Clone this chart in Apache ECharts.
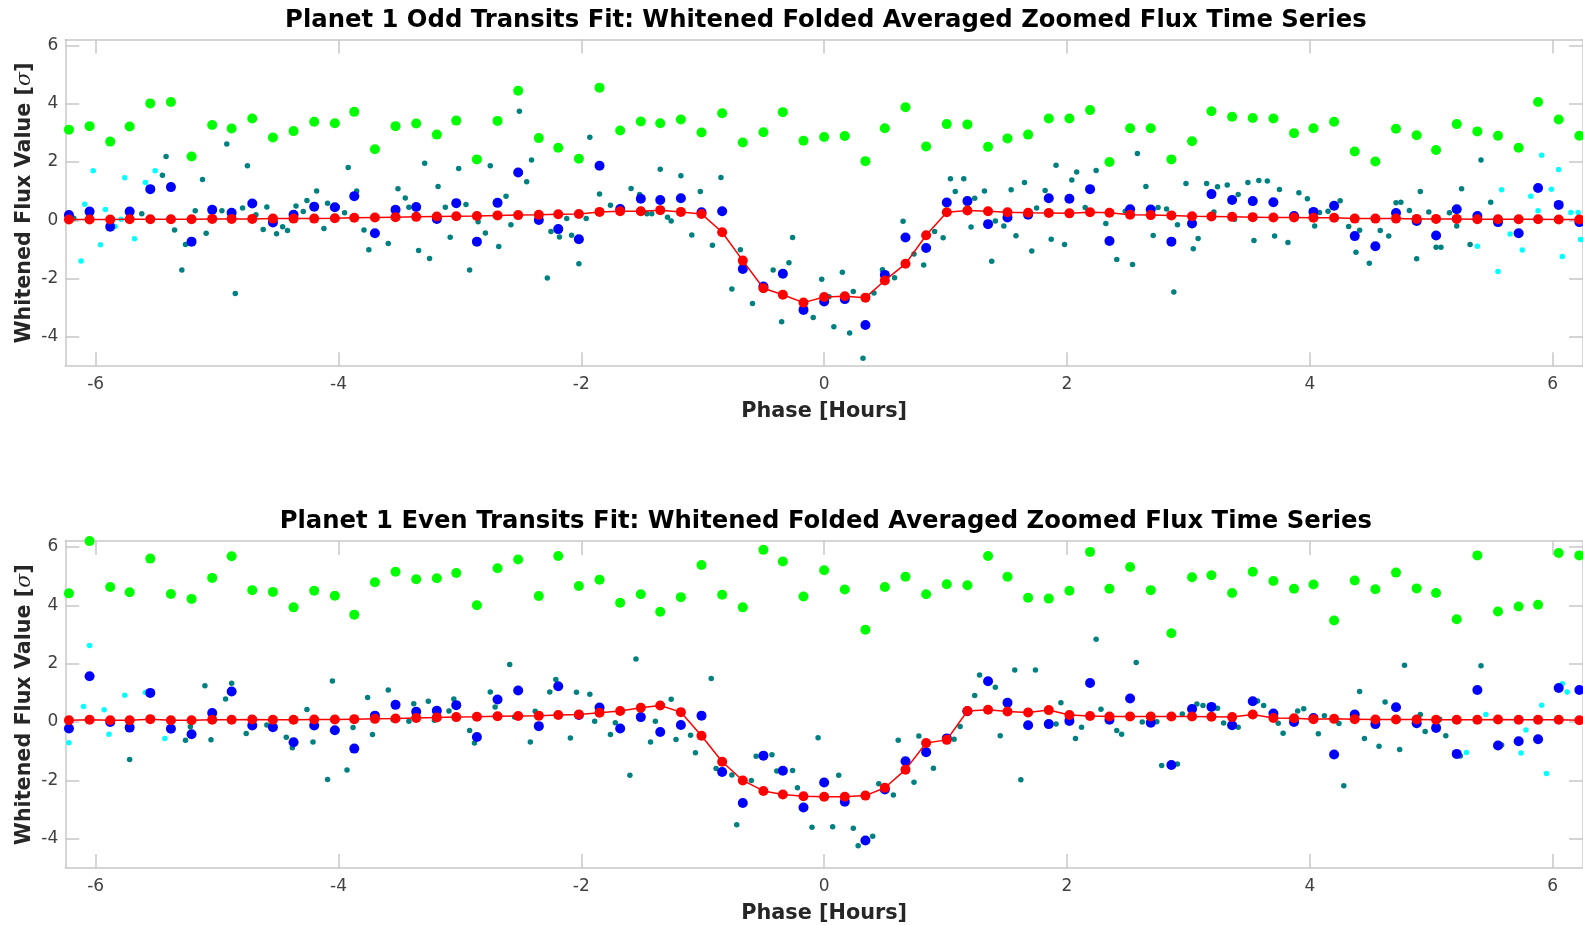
<!DOCTYPE html>
<html><head><meta charset="utf-8">
<script src="https://cdn.jsdelivr.net/npm/echarts/dist/echarts.min.js"></script>
<style>html,body{margin:0;padding:0;background:#fff}#c{width:1583px;height:925px}</style>
</head><body><div id="c"></div>
<script>
// ---------- DATA ----------
const titles = [
  'Planet 1 Odd Transits Fit: Whitened Folded Averaged Zoomed Flux Time Series',
  'Planet 1 Even Transits Fit: Whitened Folded Averaged Zoomed Flux Time Series'
];
const xTicks = [-6, -4, -2, 0, 2, 4, 6];
const yTicks = [-4, -2, 0, 2, 4, 6];

const binPhase = [-6.22,-6.05,-5.88,-5.72,-5.55,-5.38,-5.21,-5.04,-4.88,-4.71,-4.54,-4.37,-4.20,-4.03,-3.87,-3.70,-3.53,-3.36,-3.19,-3.03,-2.86,-2.69,-2.52,-2.35,-2.19,-2.02,-1.85,-1.68,-1.51,-1.35,-1.18,-1.01,-0.84,-0.67,-0.50,-0.34,-0.17,0,0.17,0.34,0.50,0.67,0.84,1.01,1.18,1.35,1.51,1.68,1.85,2.02,2.19,2.35,2.52,2.69,2.86,3.03,3.19,3.36,3.53,3.70,3.87,4.03,4.20,4.37,4.54,4.71,4.88,5.04,5.21,5.38,5.55,5.72,5.88,6.05,6.22];

// Odd transits
const oddModel = [0.03,0.03,0.03,0.04,0.04,0.04,0.04,0.05,0.05,0.05,0.06,0.06,0.06,0.07,0.09,0.10,0.11,0.12,0.13,0.14,0.15,0.17,0.18,0.19,0.21,0.22,0.29,0.31,0.31,0.35,0.29,0.22,-0.41,-1.38,-2.33,-2.55,-2.82,-2.63,-2.60,-2.65,-2.06,-1.49,-0.51,0.28,0.34,0.31,0.28,0.26,0.25,0.24,0.28,0.26,0.19,0.18,0.17,0.14,0.13,0.12,0.11,0.10,0.10,0.09,0.09,0.06,0.06,0.06,0.05,0.05,0.05,0.04,0.04,0.04,0.04,0.03,0.03];
const oddBinned = [0.18,0.30,-0.22,0.30,1.07,1.14,-0.73,0.36,0.26,0.58,-0.07,0.19,0.47,0.45,0.83,-0.44,0.36,0.46,0.05,0.59,-0.73,0.60,1.64,0.01,-0.30,-0.65,1.87,0.39,0.74,0.70,0.76,0.28,0.31,-1.67,-2.27,-1.83,-3.07,-2.78,-2.70,-3.59,-1.87,-0.59,-0.95,0.61,0.66,-0.13,0.10,0.19,0.76,0.74,1.07,-0.71,0.38,0.37,-0.73,-0.11,0.90,0.70,0.66,0.62,0.15,0.29,0.50,-0.54,-0.89,0.25,-0.02,-0.52,0.38,0.15,-0.06,-0.44,1.11,0.53,-0.06];
const oddResidual = [3.11,3.23,2.70,3.22,4.01,4.06,2.19,3.27,3.15,3.49,2.84,3.06,3.38,3.33,3.72,2.44,3.23,3.32,2.94,3.42,2.09,3.41,4.44,2.82,2.49,2.11,4.55,3.08,3.39,3.33,3.46,3.01,3.67,2.67,3.02,3.71,2.73,2.86,2.89,2.03,3.16,3.88,2.53,3.30,3.29,2.52,2.81,2.94,3.49,3.49,3.78,2.00,3.16,3.16,2.09,2.71,3.74,3.55,3.51,3.49,2.99,3.16,3.38,2.36,2.02,3.14,2.92,2.41,3.30,3.05,2.90,2.49,4.06,3.46,2.90];
const oddData = [[-6.18,0.07],[-5.62,0.23],[-5.42,2.19],[-5.45,1.55],[-5.35,-0.33],[-5.29,-1.70],[-5.26,-0.83],[-5.18,0.33],[-5.12,1.40],[-5.09,-0.44],[-4.96,0.33],[-4.92,2.62],[-4.85,-2.51],[-4.79,0.42],[-4.75,1.87],[-4.68,0.19],[-4.62,-0.31],[-4.59,0.46],[-4.51,-0.46],[-4.46,-0.22],[-4.42,-0.35],[-4.35,0.49],[-4.29,0.30],[-4.26,0.68],[-4.18,1.01],[-4.12,-0.28],[-4.09,0.59],[-4.01,0.46],[-3.95,0.26],[-3.92,1.81],[-3.85,1.01],[-3.79,-0.33],[-3.75,-1.01],[-3.59,-0.79],[-3.51,1.08],[-3.45,0.77],[-3.42,0.45],[-3.34,-1.03],[-3.29,1.96],[-3.25,-1.31],[-3.18,1.16],[-3.12,0.45],[-3.08,-0.58],[-3.01,1.78],[-2.95,0.54],[-2.92,-1.70],[-2.85,-0.05],[-2.79,-0.43],[-2.75,1.87],[-2.68,-0.90],[-2.62,0.83],[-2.58,-0.15],[-2.51,3.74],[-2.45,1.32],[-2.41,2.07],[-2.28,-1.98],[-2.25,-0.38],[-2.18,-0.57],[-2.12,0.06],[-2.08,-0.51],[-2.02,-1.49],
[-1.96,0.06],[-1.93,2.85],[-1.85,0.90],[-1.76,0.52],[-1.59,1.09],[-1.52,0.89],[-1.46,0.23],[-1.42,0.23],[-1.35,1.75],[-1.29,0.11],[-1.26,-0.02],[-1.18,1.53],[-1.09,-0.50],[-1.02,0.99],[-0.92,-0.85],[-0.85,1.47],[-0.76,-2.35],[-0.69,-1.01],[-0.59,-2.85],[-0.42,-1.70],[-0.35,-3.48],[-0.29,-1.45],[-0.26,-0.59],[-0.09,-3.33],[-0.02,-2.02],[0.04,-2.62],[0.08,-3.65],[0.15,-1.78],[0.21,-3.86],[0.24,-2.44],[0.32,-4.73],[0.41,-2.49],[0.48,-1.69],[0.58,-1.97],[0.65,-0.03],[0.74,-1.15],[0.82,-1.53],[0.91,-0.38],[0.98,-0.60],[1.04,1.43],[1.08,0.99],[1.15,1.43],[1.21,-0.23],[1.24,0.76],[1.32,1.01],[1.38,-1.40],[1.41,-0.02],[1.48,-0.19],[1.54,1.05],[1.58,-0.53],[1.65,1.30],[1.71,-1.05],[1.75,0.42],[1.82,1.02],[1.87,-0.65],[1.91,1.89],[1.98,-0.83],[2.04,1.38],[2.08,1.66],[2.15,0.44],
[2.24,1.71],[2.32,-0.11],[2.41,-1.34],[2.48,0.31],[2.54,-1.51],[2.58,2.29],[2.65,1.16],[2.71,-0.52],[2.75,0.44],[2.82,0.39],[2.88,-2.46],[2.91,-0.15],[2.98,1.26],[3.04,-0.97],[3.08,-0.62],[3.15,1.26],[3.21,0.29],[3.24,1.15],[3.32,1.21],[3.38,0.04],[3.41,0.89],[3.49,1.30],[3.54,-0.69],[3.58,1.37],[3.65,1.35],[3.71,-0.54],[3.75,1.06],[3.82,-0.76],[3.91,0.95],[3.98,0.74],[4.04,-0.19],[4.08,0.27],[4.15,0.31],[4.25,0.67],[4.32,-0.21],[4.38,-1.09],[4.41,-0.34],[4.49,-1.47],[4.58,-0.35],[4.65,-0.54],[4.71,0.60],[4.75,0.62],[4.82,0.34],[4.88,-1.32],[4.91,0.99],[4.98,0.29],[5.04,-0.92],[5.08,-0.92],[5.15,0.26],[5.21,-0.19],[5.25,1.08],[5.32,-0.83],[5.41,2.07],[5.49,0.62]];
const oddEdge = [[-6.12,-1.39],[-6.09,0.55],[-6.02,1.70],[-5.96,-0.84],[-5.92,0.37],[-5.84,-0.21],[-5.79,0.04],[-5.76,1.46],[-5.68,-0.63],[-5.59,1.30],[-5.51,1.70],[5.38,-0.89],[5.55,-1.75],[5.58,1.05],[5.65,-0.47],[5.75,-1.02],[5.82,0.83],[5.88,0.33],[5.91,2.23],[5.99,1.07],[6.05,1.74],[6.08,-1.24],[6.15,0.27],[6.21,0.27],[6.23,-0.66]];

// Even transits
const evenModel = [0.06,0.08,0.06,0.06,0.10,0.06,0.06,0.08,0.08,0.09,0.08,0.08,0.09,0.09,0.10,0.11,0.12,0.14,0.16,0.17,0.18,0.20,0.21,0.22,0.24,0.26,0.32,0.38,0.49,0.57,0.34,-0.47,-1.36,-2.00,-2.36,-2.48,-2.54,-2.56,-2.56,-2.52,-2.25,-1.63,-0.72,-0.61,0.38,0.42,0.36,0.33,0.41,0.24,0.21,0.19,0.19,0.19,0.19,0.19,0.18,0.17,0.26,0.14,0.13,0.10,0.11,0.10,0.09,0.09,0.09,0.08,0.08,0.08,0.09,0.08,0.08,0.08,0.06];
const evenBinned = [-0.22,1.57,0.00,-0.19,1.00,-0.23,-0.42,0.31,1.05,-0.12,-0.18,-0.69,-0.12,-0.28,-0.91,0.22,0.59,0.35,0.39,0.58,-0.51,0.77,1.08,-0.14,1.23,0.24,0.50,-0.22,0.17,-0.34,-0.10,0.22,-1.71,-2.77,-1.15,-1.67,-2.93,-2.07,-2.73,-4.06,-2.31,-1.34,-1.03,-0.56,0.37,1.40,0.66,-0.11,-0.07,0.04,1.34,0.08,0.81,-0.02,-1.47,0.45,0.52,-0.11,0.71,0.29,0.00,0.14,-1.11,0.26,-0.07,0.51,-0.04,-0.20,-1.09,1.10,-0.80,-0.66,-0.59,1.17,1.10];
const evenResidual = [4.41,6.20,4.63,4.45,5.60,4.39,4.22,4.94,5.68,4.52,4.46,3.93,4.50,4.33,3.68,4.79,5.15,4.89,4.93,5.11,4.00,5.27,5.57,4.32,5.69,4.66,4.88,4.09,4.38,3.78,4.28,5.38,4.36,3.93,5.90,5.50,4.30,5.20,4.54,3.16,4.63,4.98,4.38,4.72,4.69,5.69,4.98,4.26,4.23,4.50,5.83,4.57,5.31,4.52,3.04,4.96,5.03,4.42,5.15,4.83,4.57,4.71,3.48,4.85,4.55,5.12,4.58,4.42,3.52,5.71,3.79,3.96,4.02,5.79,5.71];
const evenData = [[-5.72,-1.28],[-5.22,-0.16],[-5.26,-0.62],[-5.10,1.24],[-5.05,-0.61],[-4.93,0.79],[-4.88,1.33],[-4.76,-0.39],[-4.72,0.16],[-4.59,-0.10],[-4.43,-0.52],[-4.38,-0.88],[-4.26,0.43],[-4.21,-0.68],[-4.05,1.41],[-4.09,-1.97],[-3.93,-1.64],[-3.88,-0.19],[-3.76,0.84],[-3.72,-0.43],[-3.59,1.10],[-3.55,0.08],[-3.42,0.03],[-3.38,0.63],[-3.26,0.71],[-3.21,0.06],[-3.09,0.38],[-3.05,0.79],[-2.92,-0.29],[-2.88,-0.72],[-2.75,1.03],[-2.71,0.52],[-2.59,1.97],[-2.55,0.17],[-2.42,-0.68],[-2.38,0.37],[-2.26,1.03],[-2.21,1.46],[-2.09,-0.55],[-2.04,1.02],
[-1.93,0.95],[-1.89,0.03],[-1.76,-0.43],[-1.72,-0.02],[-1.60,-1.82],[-1.55,2.16],[-1.43,-0.68],[-1.39,0.03],[-1.26,0.78],[-1.22,-0.60],[-1.10,-0.45],[-1.06,-1.05],[-0.93,1.49],[-0.89,-1.59],[-0.76,-1.81],[-0.72,-3.52],[-0.60,-2.00],[-0.56,-1.17],[-0.43,-1.12],[-0.39,-1.68],[-0.26,-1.66],[-0.22,-2.25],[-0.10,-3.60],[-0.05,-0.54],[0.07,-3.59],[0.12,-1.82],[0.24,-3.64],[0.28,-4.24],[0.40,-3.91],[0.45,-2.11],[0.57,-2.50],[0.61,-0.62],[0.74,-2.06],[0.78,-0.48],[0.90,-1.58],[1.07,-0.59],[1.12,-0.15],[1.24,0.91],[1.28,1.61],[1.41,1.19],[1.45,-0.47],[1.57,1.78],[1.62,-1.98],[1.74,1.78],[1.91,-0.07],[1.95,0.66],[2.07,-0.56],[2.12,-0.18],
[2.24,2.84],[2.28,0.44],[2.41,-0.29],[2.45,-0.42],[2.57,2.04],[2.62,0.00],[2.74,0.01],[2.78,-1.49],[2.91,-1.44],[2.95,0.28],[3.07,0.62],[3.12,0.57],[3.24,0.47],[3.29,-0.03],[3.41,-0.18],[3.57,0.72],[3.62,0.57],[3.74,-0.04],[3.78,-0.38],[3.90,0.38],[3.95,0.46],[4.07,-0.40],[4.12,0.22],[4.24,-0.05],[4.28,-2.18],[4.41,1.05],[4.45,-0.56],[4.57,-0.83],[4.62,0.69],[4.74,-0.94],[4.78,1.95],[4.91,0.26],[4.95,-0.32],[5.07,0.10],[5.12,-0.47],[5.24,-1.16],[5.41,1.93],[5.58,-0.79]];
const evenEdge = [[-6.22,-0.71],[-6.10,0.53],[-6.05,2.62],[-5.93,0.42],[-5.89,-0.42],[-5.76,0.92],[-5.59,1.01],[-5.43,-0.56],[5.29,-1.04],[5.45,0.26],[5.74,-1.06],[5.78,-0.27],[5.91,0.58],[5.95,-1.76],[6.08,1.31],[6.12,1.03]];

// ---------- LAYOUT / STYLE ----------
const FONT = 'DejaVu Sans';
const gridLeft = 65.3, gridWidth = 1521.1;
const grids = [{top: 39.5, height: 326.7}, {top: 541.1, height: 327}];
const titleY = [20.5, 522];
const boxColor = '#c8c8c8';

const zip = (xs, ys) => xs.map((x, i) => [x, ys[i]]);

const xAxes = [], yAxes = [], series = [], graphics = [];
const panels = [
  {data: oddData, edge: oddEdge, binned: oddBinned, resid: oddResidual, model: oddModel},
  {data: evenData, edge: evenEdge, binned: evenBinned, resid: evenResidual, model: evenModel}
];

panels.forEach((p, g) => {
  const tickStyle = {color: boxColor, width: 1.5};
  const lineStyle = {color: boxColor, width: 1.5};
  xAxes.push({
    type: 'value', gridIndex: g, min: -6.25, max: 6.25, position: 'bottom',
    name: 'Phase [Hours]', nameLocation: 'middle', nameGap: 35,
    nameTextStyle: {fontFamily: FONT, fontWeight: 'bold', fontSize: 20.8, color: '#262626'},
    axisLine: {show: true, onZero: false, lineStyle},
    axisTick: {show: true, inside: true, length: 14, customValues: xTicks, lineStyle: tickStyle},
    axisLabel: {show: true, customValues: xTicks, margin: 10, fontFamily: FONT, fontSize: 17, color: '#404040'},
    splitLine: {show: false}
  });
  xAxes.push({
    type: 'value', gridIndex: g, min: -6.25, max: 6.25, position: 'top',
    axisLine: {show: true, onZero: false, lineStyle},
    axisTick: {show: true, inside: true, length: 14, customValues: xTicks, lineStyle: tickStyle},
    axisLabel: {show: false}, splitLine: {show: false}
  });
  yAxes.push({
    type: 'value', gridIndex: g, min: -5, max: 6.2, position: 'left',
    name: 'Whitened Flux Value [{s|σ}]', nameLocation: 'middle', nameGap: 30.5, nameMoveOverlap: false,
    nameTextStyle: {fontFamily: FONT, fontWeight: 'bold', fontSize: 20.7, color: '#262626',
      rich: {s: {fontFamily: 'DejaVu Serif', fontStyle: 'italic', fontWeight: 'normal', fontSize: 20.7, color: '#262626'}}},
    axisLine: {show: true, onZero: false, lineStyle},
    axisTick: {show: true, inside: true, length: 14, customValues: yTicks, lineStyle: tickStyle},
    axisLabel: {show: true, customValues: yTicks, margin: 7, fontFamily: FONT, fontSize: 17, color: '#404040'},
    splitLine: {show: false}
  });
  yAxes.push({
    type: 'value', gridIndex: g, min: -5, max: 6.2, position: 'right',
    axisLine: {show: true, onZero: false, lineStyle},
    axisTick: {show: true, inside: true, length: 14, customValues: yTicks, lineStyle: tickStyle},
    axisLabel: {show: false}, splitLine: {show: false}
  });
  const xi = 2 * g, yi = 2 * g;
  series.push({type: 'scatter', xAxisIndex: xi, yAxisIndex: yi, data: p.data, symbol: 'circle', symbolSize: 5.5,
    itemStyle: {color: '#008080', opacity: 1}, clip: false, silent: true});
  series.push({type: 'scatter', xAxisIndex: xi, yAxisIndex: yi, data: p.edge, symbol: 'circle', symbolSize: 5.5,
    itemStyle: {color: '#00ffff', opacity: 1}, clip: false, silent: true});
  series.push({type: 'scatter', xAxisIndex: xi, yAxisIndex: yi, data: zip(binPhase, p.binned), symbol: 'circle', symbolSize: 10,
    itemStyle: {color: '#0000ff', opacity: 1}, clip: false, silent: true});
  series.push({type: 'scatter', xAxisIndex: xi, yAxisIndex: yi, data: zip(binPhase, p.resid), symbol: 'circle', symbolSize: 10,
    itemStyle: {color: '#00ff00', opacity: 1}, clip: false, silent: true});
  series.push({type: 'line', xAxisIndex: xi, yAxisIndex: yi, data: zip(binPhase, p.model), symbol: 'circle', symbolSize: 10,
    showSymbol: true, showAllSymbol: true, itemStyle: {color: '#ff0000', opacity: 1}, lineStyle: {color: '#ff0000', width: 1.5},
    clip: false, silent: true, z: 3});
  graphics.push({type: 'text', x: gridLeft + gridWidth / 2, y: titleY[g], silent: true,
    style: {text: titles[g], font: 'bold 24.3px "' + FONT + '"', fill: '#000',
      align: 'center', verticalAlign: 'middle', textAlign: 'center', textVerticalAlign: 'middle'}});
});

const chart = echarts.init(document.getElementById('c'), null, {renderer: 'canvas', devicePixelRatio: 1});
chart.setOption({
  backgroundColor: '#ffffff',
  animation: false,
  grid: grids.map(g => ({left: gridLeft, width: gridWidth, top: g.top, height: g.height, containLabel: false})),
  xAxis: xAxes,
  yAxis: yAxes,
  series: series,
  graphic: graphics
});
</script>
</body></html>
